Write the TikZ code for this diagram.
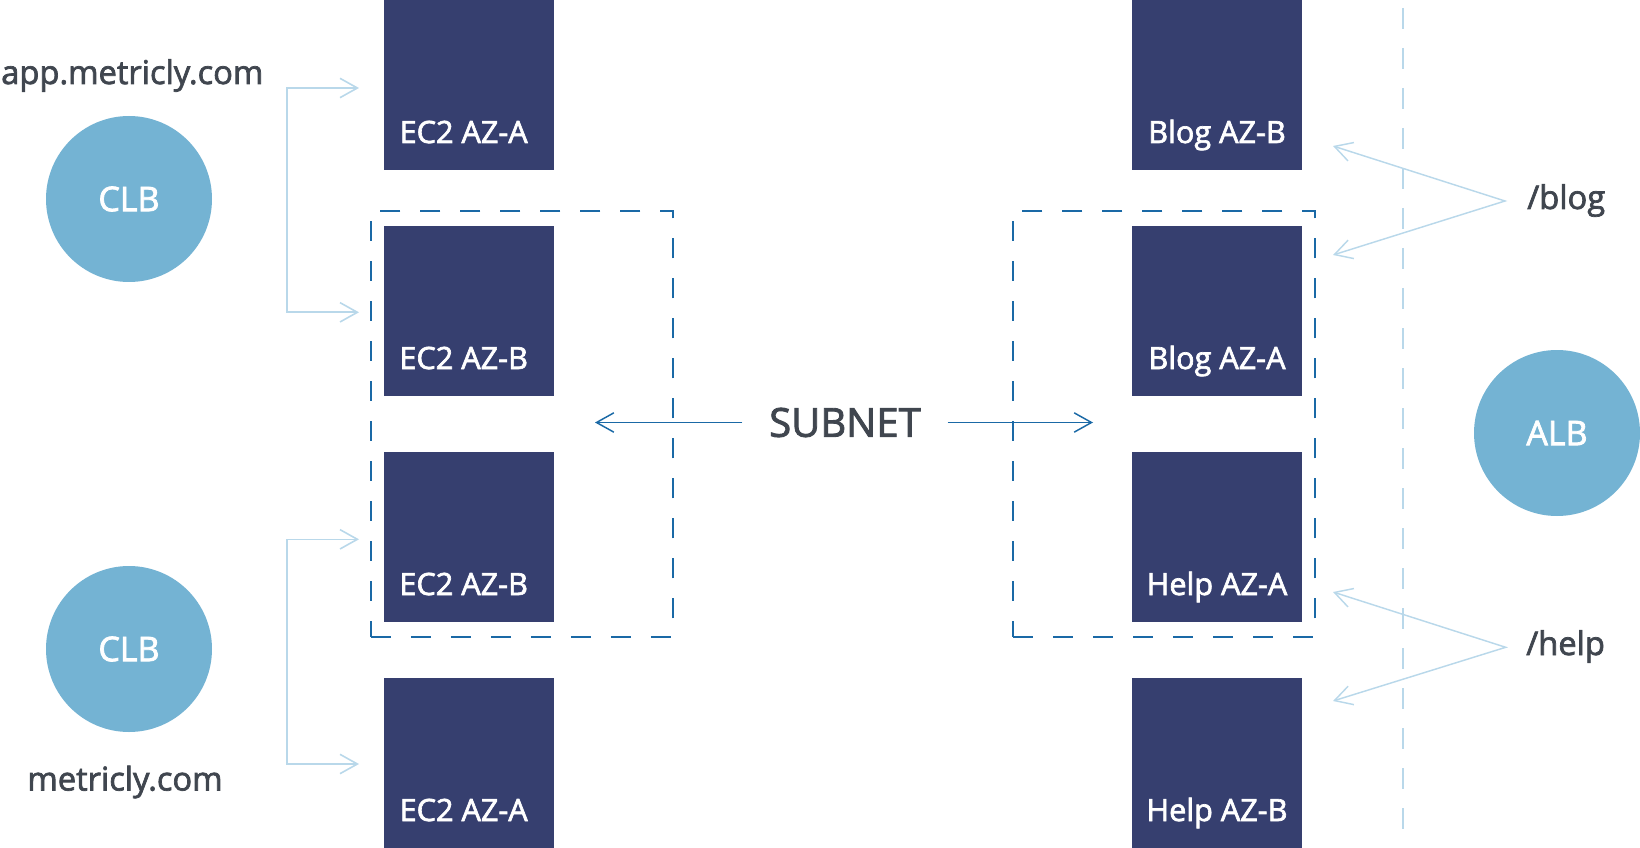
\documentclass[tikz,border=0pt]{standalone}
\usepackage{fontspec}
\setmainfont{Open Sans}[RawFeature={embolden=2.2}]
\usetikzlibrary{arrows.meta}
\definecolor{navy}{HTML}{363F6F}
\definecolor{clbblue}{HTML}{74B3D3}
\definecolor{lite}{HTML}{B9D8EA}
\definecolor{dblue}{HTML}{1A69A6}
\definecolor{txt}{HTML}{40464F}
\begin{document}
\begin{tikzpicture}[x=0.75pt,y=-0.75pt,
  server/.style={fill=navy,draw=none,minimum width=127.5pt,minimum height=127.5pt,inner sep=0pt,outer sep=0pt},
  lbnode/.style={circle,fill=clbblue,draw=none,minimum size=124.5pt,inner sep=0pt,text=white,font=\fontsize{25.5pt}{30pt}\selectfont},
  srvlabel/.style={text=white,anchor=base,inner sep=0pt,font=\fontsize{23pt}{28pt}\selectfont},
  plain/.style={text=txt,inner sep=0pt,font=\fontsize{24.5pt}{29pt}\selectfont},
  subnetbox/.style={draw=dblue,line width=1.5pt,dash pattern=on 15pt off 15pt,minimum width=226.3pt,minimum height=319.5pt,inner sep=0pt},
  litebarb/.style={draw=lite,line width=1.2pt,{Straight Barb[length=13pt,width=14.5pt]}-{Straight Barb[length=13pt,width=14.5pt]}},
  subarrow/.style={draw=dblue,line width=1.1pt,-{Straight Barb[length=13pt,width=14.5pt]}},
  ]
\useasboundingbox (0,0) rectangle (1640,848);

% vertical dashed separator
\coordinate (vtop) at (1402.7,8);
\coordinate (vbot) at (1402.7,848);
\draw[lite,line width=1.6pt,dash pattern=on 15.75pt off 14.25pt] (vtop) -- (vbot);

% subnet boxes
\node[subnetbox] (sl) at (521.85,423.7) {};
\node[subnetbox] (sr) at (1163.85,423.7) {};

% servers left
\node[server] (e1) at (469,85) {};
\node[server] (e2) at (469,311) {};
\node[server] (e3) at (469,537) {};
\node[server] (e4) at (469,763) {};
% servers right
\node[server] (r1) at (1217,85) {};
\node[server] (r2) at (1217,311) {};
\node[server] (r3) at (1217,537) {};
\node[server] (r4) at (1217,763) {};

\node[srvlabel] (le1) at ([xshift=-4pt,yshift=20.25pt]e1.south) {EC2 AZ-A};
\node[srvlabel] (le2) at ([xshift=-4pt,yshift=20.25pt]e2.south) {EC2 AZ-B};
\node[srvlabel] (le3) at ([xshift=-4pt,yshift=20.25pt]e3.south) {EC2 AZ-B};
\node[srvlabel] (le4) at ([xshift=-4pt,yshift=20.25pt]e4.south) {EC2 AZ-A};
\node[srvlabel] (lr1) at ([yshift=20.25pt]r1.south) {Blog AZ-B};
\node[srvlabel] (lr2) at ([yshift=20.25pt]r2.south) {Blog AZ-A};
\node[srvlabel] (lr3) at ([yshift=20.25pt]r3.south) {Help AZ-A};
\node[srvlabel] (lr4) at ([yshift=20.25pt]r4.south) {Help AZ-B};

% load balancers
\node[lbnode] (clb1) at (129,199) {CLB};
\node[lbnode] (clb2) at (129,649) {CLB};
\node[lbnode] (alb) at (1557,433) {ALB};

% domain labels
\node[plain,anchor=base west] (app) at (1,84) {app.metricly.com};
\node[plain,anchor=base] (dom) at (125,790.5) {metricly.com};
\node[plain,anchor=base west] (blog) at (1527,209) {/blog};
\node[plain,anchor=base west] (help) at (1526,655) {/help};

% brackets
\coordinate (k1) at (286.7,88);
\coordinate (k2) at (286.7,312.3);
\coordinate (a1) at (359,88);
\coordinate (a2) at (359,312.3);
\draw[litebarb] (a1) -- (k1) -- (k2) -- (a2);
\coordinate (k3) at (286.7,539.3);
\coordinate (k4) at (286.7,764);
\coordinate (a3) at (359,539.3);
\coordinate (a4) at (359,764);
\draw[litebarb] (a3) -- (k3) -- (k4) -- (a4);

% path routing
\coordinate (vb) at (1505,201);
\coordinate (tb1) at (1333,146);
\coordinate (tb2) at (1333,255);
\draw[litebarb,line width=1.1pt] (tb1) -- (vb) -- (tb2);
\coordinate (vh) at (1505.7,647.3);
\coordinate (th1) at (1333,592);
\coordinate (th2) at (1333,701);
\draw[litebarb,line width=1.1pt] (th1) -- (vh) -- (th2);

% subnet label
\node[text=txt,inner ysep=0pt,inner xsep=20pt,font=\fontsize{30pt}{36pt}\selectfont] (sub) at (845,422.5) {SUBNET};
\coordinate (tipl) at (595,422.5);
\coordinate (tipr) at (1093,422.5);
\draw[subarrow] (sub.west) -- (tipl);
\draw[subarrow] (sub.east) -- (tipr);
\end{tikzpicture}
\end{document}
